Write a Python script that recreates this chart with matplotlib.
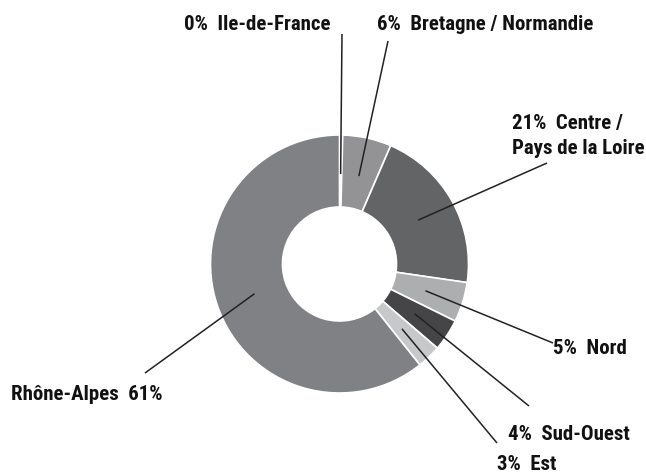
import matplotlib
matplotlib.use("Agg")
import matplotlib.pyplot as plt
from matplotlib import font_manager as fm
import numpy as np

# ---- data ----
regions = ["Ile-de-France", "Bretagne / Normandie", "Centre / Pays de la Loire",
           "Nord", "Sud-Ouest", "Est", "Rhône-Alpes"]
shares = [0.4, 6.1, 20.8, 5.0, 4.0, 3.0, 60.7]
colors = ["#e4e4e4", "#939396", "#636466", "#adaeb0", "#454547", "#c7c8ca", "#808184"]

# ---- font ----
avail = {f.name for f in fm.fontManager.ttflist}
family = "DejaVu Sans"
for cand in ["Roboto Condensed", "Liberation Sans Narrow", "DejaVu Sans Condensed",
             "Open Sans Condensed"]:
    if cand in avail:
        family = cand
        break

W, H = 646, 473
fig = plt.figure(figsize=(W / 100, H / 100), dpi=100)
ax = fig.add_axes([0, 0, 1, 1])

def Y(yp):
    return H - yp

cx, cy = 339.5, Y(264.0)
r_out, r_in = 129.0, 57.0

wedges, _ = ax.pie(shares, colors=colors, startangle=90, counterclock=False,
                   center=(cx, cy), radius=r_out,
                   wedgeprops=dict(width=r_out - r_in, edgecolor="white", linewidth=1.2))
ax.set_xlim(0, W)
ax.set_ylim(0, H)
ax.set_aspect("equal")
ax.axis("off")

# label layout: (text lines, x_left, baselines in px, leader end in px)
labels = [
    (["{p}%  Ile-de-France"], 184, [30.5], (342, 34)),
    (["{p}%  Bretagne / Normandie"], 377, [30], (388, 41)),
    (["{p}%  Centre /", "Pays de la Loire"], 512, [129.5, 153.5], (547, 163)),
    (["{p}%  Nord"], 553, [353.5], (553, 343)),
    (["{p}%  Sud-Ouest"], 508, [440.5], (529, 406)),
    (["{p}%  Est"], 497, [469.5], (497, 443)),
    (["Rhône-Alpes  {p}%"], 11, [400.5], (145, 373)),
]

fs = 15 if family != "DejaVu Sans" else 12
for w, val, (lines, xl, bls, end) in zip(wedges, shares, labels):
    mid = np.deg2rad((w.theta1 + w.theta2) / 2)
    r_mid = 90
    sx, sy = cx + r_mid * np.cos(mid), cy + r_mid * np.sin(mid)
    ax.plot([sx, end[0]], [sy, Y(end[1])], color="#222222", lw=1.1,
            solid_capstyle="butt", zorder=5)
    for i, (ln, bl) in enumerate(zip(lines, bls)):
        ax.text(xl, Y(bl), ln.format(p=int(round(val))), ha="left", va="baseline",
                fontsize=fs, fontweight="bold", family=family, color="#111111",
                zorder=6)

fig.savefig("out.png", dpi=100)
